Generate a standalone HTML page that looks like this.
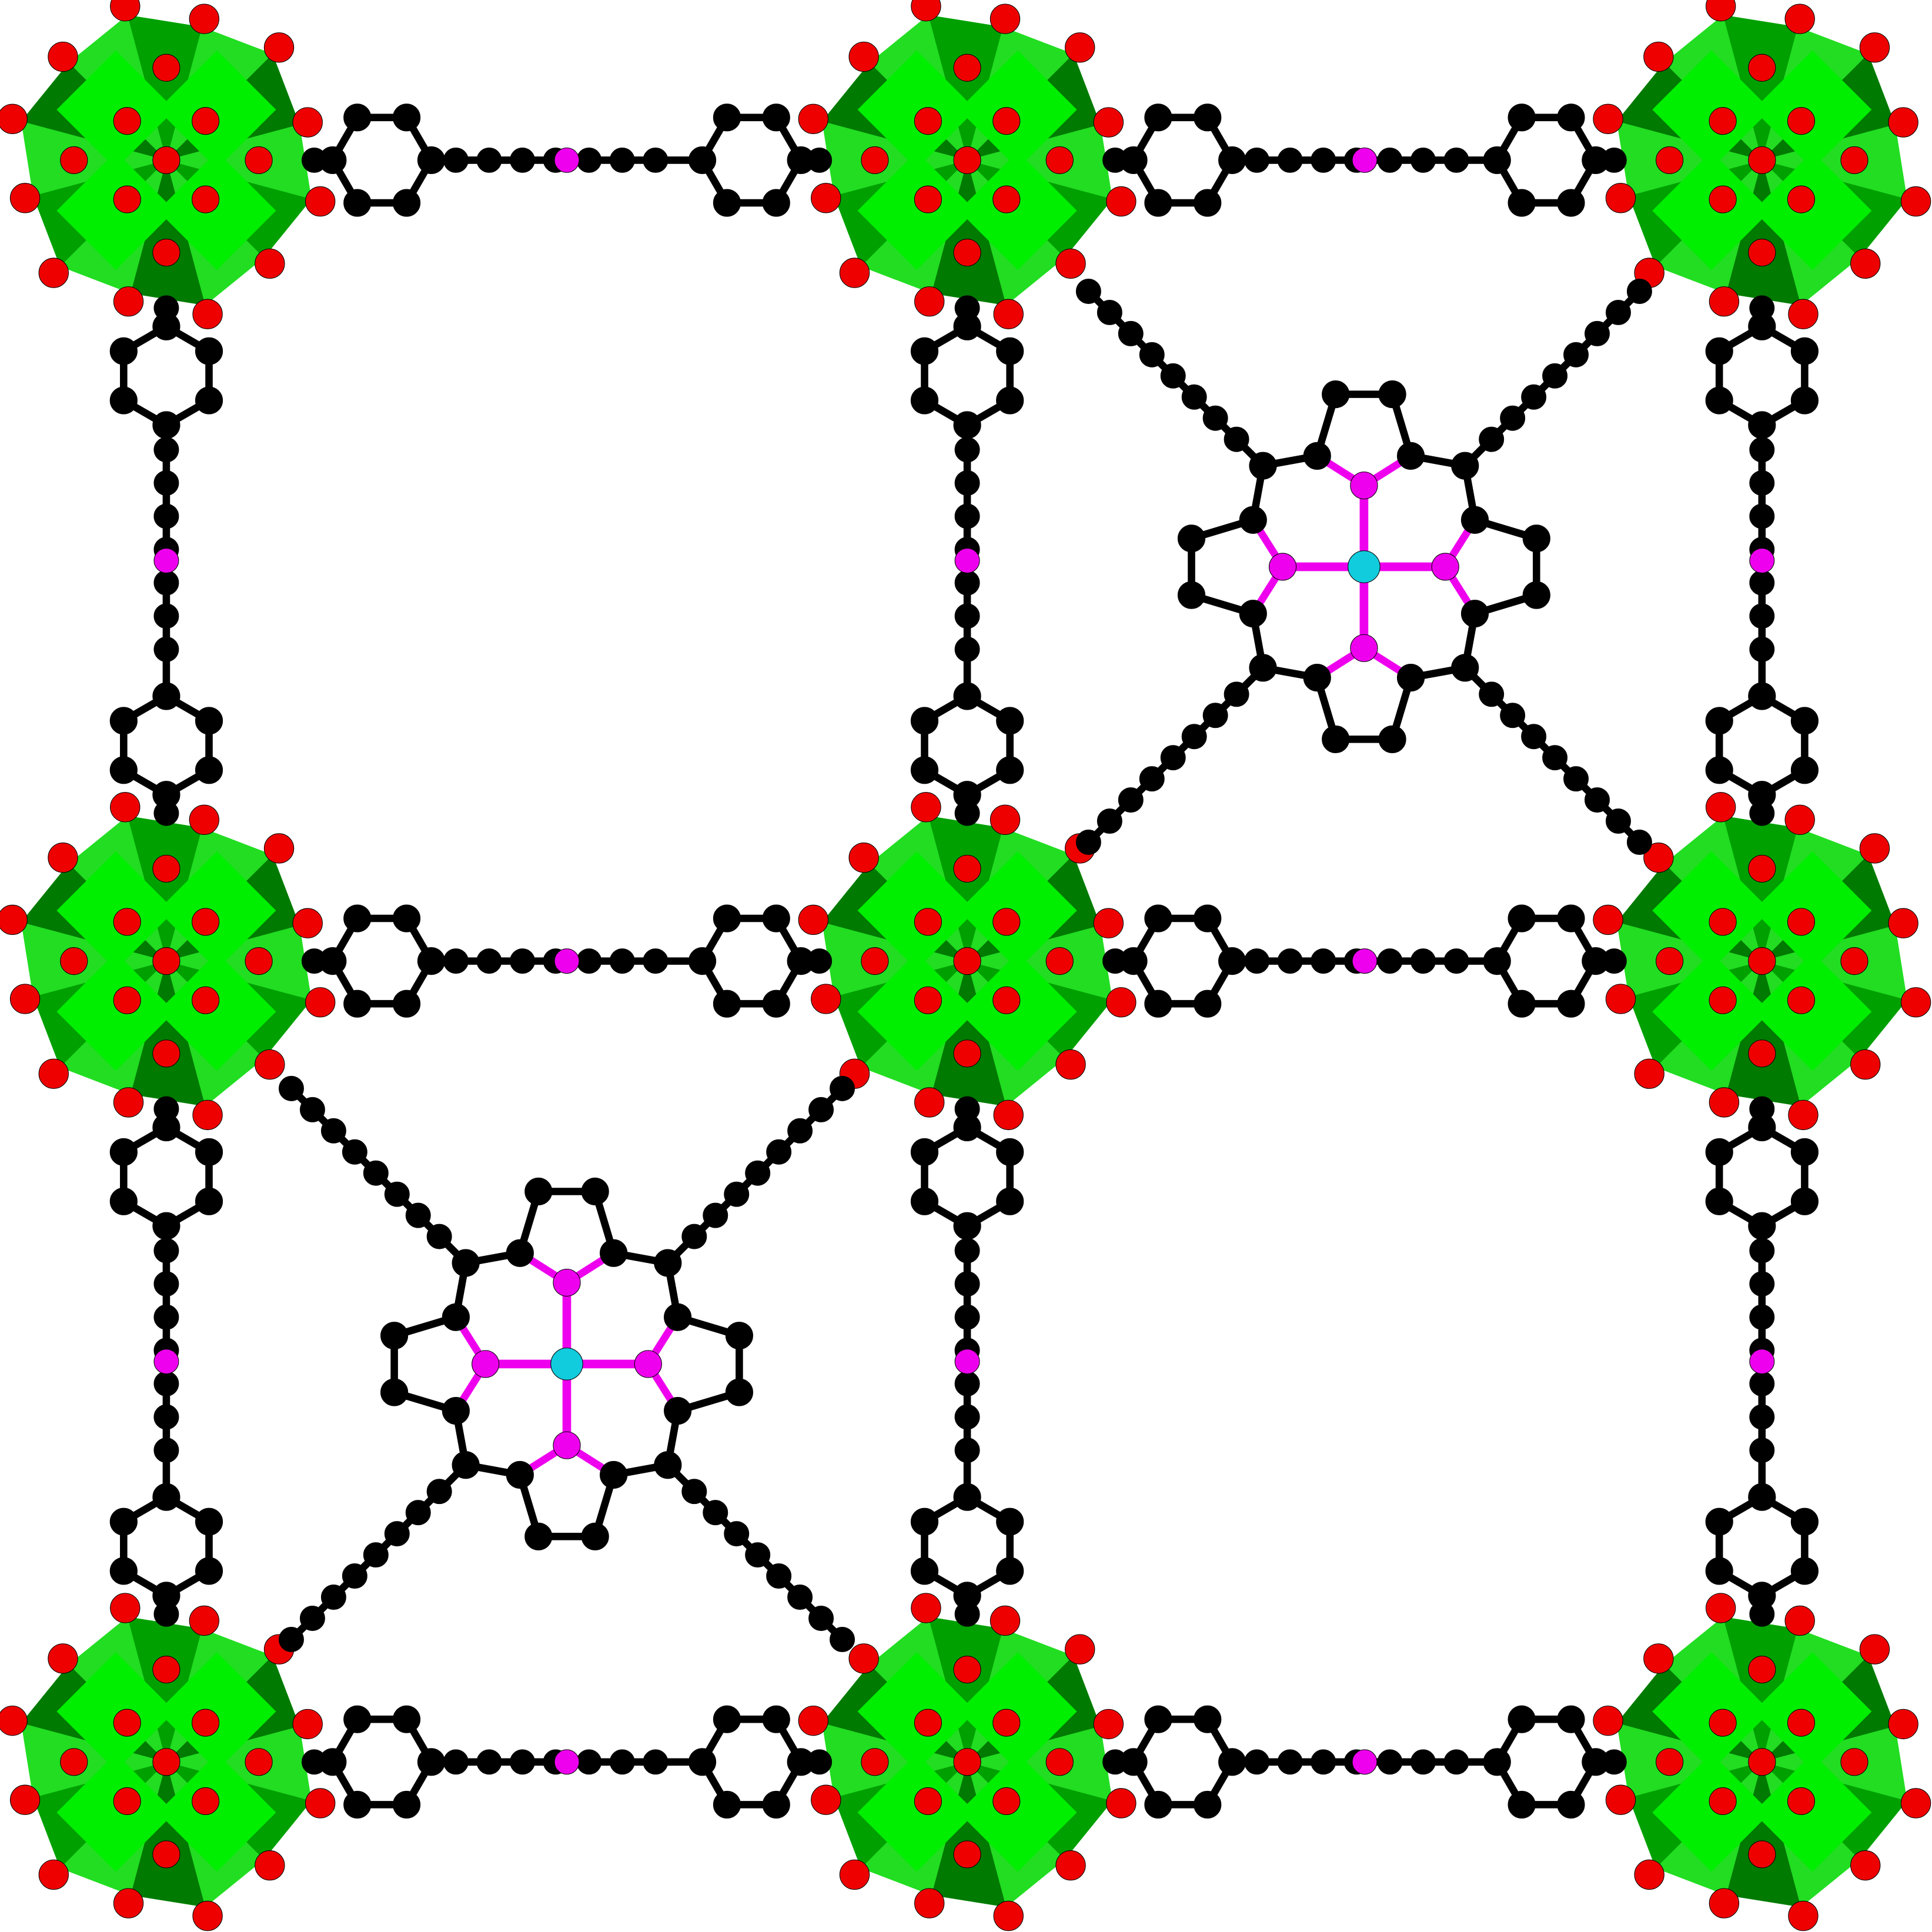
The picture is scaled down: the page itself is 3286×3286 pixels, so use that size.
<!DOCTYPE html>
<html><head><meta charset="utf-8"><style>html,body{margin:0;padding:0;background:#fff}svg{display:block}</style></head>
<body>
<svg id="s" width="3286" height="3286" viewBox="0 0 1568 1568" xmlns="http://www.w3.org/2000/svg">
<rect width="1568" height="1568" fill="#fff"/>
<g id="bonds"></g><g id="atoms"></g>
</svg>
<script>
const clusterXs=[135,785,1430];
const clusterYs=[130,780,1430];
const hLinks=[[0,1,0],[1,2,0],[0,1,1],[1,2,1],[0,1,2],[1,2,2]];
const vLinks=[[0,0,1],[0,1,2],[1,0,1],[1,1,2],[2,0,1],[2,1,2]];
const porphyrins=[[1107,460],[460,1107]];
const NS="http://www.w3.org/2000/svg";
const S=document.getElementById('s'),B=document.getElementById('bonds'),A=document.getElementById('atoms');
function mk(t,a,p){const e=document.createElementNS(NS,t);for(const k in a)e.setAttribute(k,a[k]);p.appendChild(e);return e;}
function ball(x,y,r,c){const e=mk('circle',{cx:x,cy:y,r:r,fill:c,stroke:'#000','stroke-width':0.5},A);

return e;}
function bond(x1,y1,x2,y2,c,w){const e=mk('line',{x1:x1,y1:y1,x2:x2,y2:y2,stroke:c||'#000','stroke-width':w||6},B);

return e;}
clusterYs.forEach(cy=>clusterXs.forEach(cx=>{
 const g=mk('g',{},B);
 
 
 let pts=[];for(let i=0;i<12;i++){const a=i*Math.PI/6+Math.PI/12,r=i%2?112:122;pts.push([cx+r*Math.cos(a),cy+r*Math.sin(a)]);}
 mk('polygon',{points:pts.map(p=>p.join(',')).join(' '),fill:'#22dd22'},g);
 for(let i=0;i<12;i+=2){const a=pts[i],b=pts[i+1];mk('polygon',{points:`${cx},${cy} ${a[0]},${a[1]} ${b[0]},${b[1]}`,fill:i%4?'#007a00':'#00a000'},g);}
 for(let q=0;q<4;q++){const a=q*Math.PI/2+Math.PI/4;const px=cx+58*Math.cos(a),py=cy+58*Math.sin(a);
  mk('polygon',{points:`${px-48},${py} ${px},${py-48} ${px+48},${py} ${px},${py+48}`,fill:'#00ee00'},g);}
 pts.forEach(p=>ball(cx+(p[0]-cx)*1.06,cy+(p[1]-cy)*1.06,12,'#ee0000'));
 for(let q=0;q<4;q++){const a=q*Math.PI/2;ball(cx+75*Math.cos(a),cy+75*Math.sin(a),11,'#ee0000');ball(cx+45*Math.cos(a+Math.PI/4),cy+45*Math.sin(a+Math.PI/4),11,'#ee0000');}
 ball(cx,cy,11,'#ee0000');
}));
function ring(cx,cy,horiz){const p=[];for(let i=0;i<6;i++){const a=i*Math.PI/3+(horiz?0:Math.PI/6);p.push([cx+40*Math.cos(a),cy+40*Math.sin(a)]);}
 for(let i=0;i<6;i++){const a=p[i],b=p[(i+1)%6];bond(a[0],a[1],b[0],b[1]);}
 p.forEach(q=>ball(q[0],q[1],11,'#000'));}
function linker(x1,y1,x2,y2,h){const L=h?x2-x1:y2-y1;const P=t=>h?[x1+t,y1]:[x1,y1+t];
 const s=P(120),e=P(L-120),a1=P(135),a2=P(L-135),b1=P(215),b2=P(L-215);
 bond(s[0],s[1],a1[0],a1[1]);bond(a2[0],a2[1],e[0],e[1]);bond(b1[0],b1[1],b2[0],b2[1]);
 const r1=P(175),r2=P(L-175);ring(r1[0],r1[1],h);ring(r2[0],r2[1],h);
 for(let t=235;t<=L-235;t+=27){const q=P(t);ball(q[0],q[1],10,'#000');}
 const m=P(L/2);ball(m[0],m[1],10,'#ee00ee');ball(s[0],s[1],10,'#000');ball(e[0],e[1],10,'#000');}
hLinks.forEach(l=>linker(clusterXs[l[0]],clusterYs[l[2]],clusterXs[l[1]],clusterYs[l[2]],true));
vLinks.forEach(l=>linker(clusterXs[l[0]],clusterYs[l[1]],clusterXs[l[0]],clusterYs[l[2]],false));
porphyrins.forEach(([px,py])=>{
 const Np=[[0,-66],[66,0],[0,66],[-66,0]];
 Np.forEach(n=>bond(px,py,px+n[0],py+n[1],'#ee00ee',7));
 const alphas=[];
 Np.forEach(([nx,ny])=>{
  const ux=Math.sign(nx),uy=Math.sign(ny),sx=uy,sy=ux;
  const N=[px+nx,py+ny];
  const a=[N[0]+ux*24+sx*38,N[1]+uy*24+sy*38],b=[N[0]+ux*24-sx*38,N[1]+uy*24-sy*38];
  const c=[N[0]+ux*74+sx*23,N[1]+uy*74+sy*23],d=[N[0]+ux*74-sx*23,N[1]+uy*74-sy*23];
  bond(N[0],N[1],a[0],a[1],'#ee00ee');bond(N[0],N[1],b[0],b[1],'#ee00ee');bond(a[0],a[1],c[0],c[1]);bond(b[0],b[1],d[0],d[1]);bond(c[0],c[1],d[0],d[1]);
  alphas.push(a,b);
  [a,b,c,d].forEach(q=>ball(q[0],q[1],11,'#000'));
  ball(N[0],N[1],11,'#ee00ee');
 });
 [[-1,-1],[1,-1],[1,1],[-1,1]].forEach(([sx,sy])=>{
  const mx=px+82*sx,my=py+82*sy;
  alphas.forEach(a=>{if(Math.hypot(a[0]-mx,a[1]-my)<60)bond(mx,my,a[0],a[1]);});
  const ex=px+sx*225,ey=py+sy*225;
  bond(mx,my,ex,ey);
  for(let t=0.15;t<=1.01;t+=0.12){ball(mx+(ex-mx)*t,my+(ey-my)*t,10,'#000');}
  ball(mx,my,11,'#000');
 });
 ball(px,py,13,'#11ccdd');
});
</script>
</body></html>
